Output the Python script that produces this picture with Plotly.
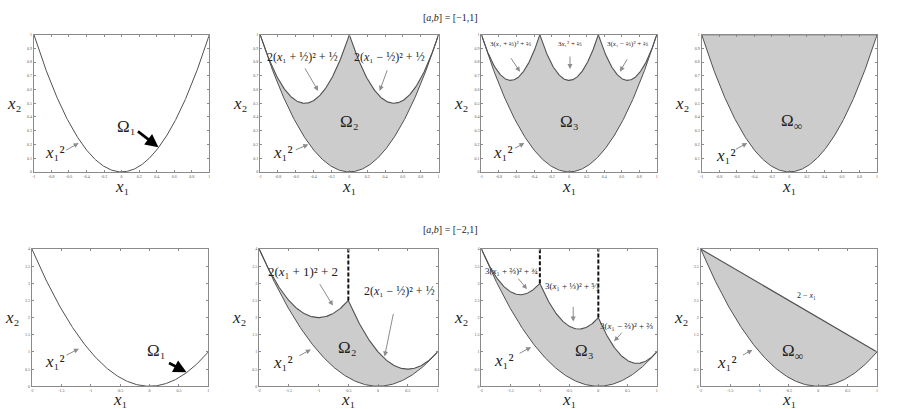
import numpy as np
import plotly.graph_objects as go

# ---------------- data ----------------
row_titles = ["[<i>a</i>,<i>b</i>] = [−1,1]", "[<i>a</i>,<i>b</i>] = [−2,1]"]
row_xrange = [[-1, 1], [-2, 1]]
row_yrange = [[0, 1], [0, 4]]
row_xticks = [[-1, -0.8, -0.6, -0.4, -0.2, 0, 0.2, 0.4, 0.6, 0.8, 1],
              [-2, -1.5, -1, -0.5, 0, 0.5, 1]]
row_yticks = [[0, 0.1, 0.2, 0.3, 0.4, 0.5, 0.6, 0.7, 0.8, 0.9, 1],
              [0, 0.5, 1, 1.5, 2, 2.5, 3, 3.5, 4]]
row_xticklabels = [["-1", "-0.8", "-0.6", "-0.4", "-0.2", "0", "0.2", "0.4", "0.6", "0.8", "1"],
                   ["-2", "-1.5", "-1", "-0.5", "0", "0.5", "1"]]
row_yticklabels = [["0", "0.1", "0.2", "0.3", "0.4", "0.5", "0.6", "0.7", "0.8", "0.9", "1"],
                   ["0", "0.5", "1", "1.5", "2", "2.5", "3", "3.5", "4"]]

# lower boundary x1^2 : coefficient
lower_coef = 1.0
# upper boundary pieces: [k, c, d, x_start, x_end]  ->  k*(x1-c)^2 + d
top_omega2_pieces = [[2, -1/2, 1/2, -1, 0], [2, 1/2, 1/2, 0, 1]]
top_omega3_pieces = [[3, -2/3, 2/3, -1, -1/3], [3, 0, 2/3, -1/3, 1/3], [3, 2/3, 2/3, 1/3, 1]]
top_omegainf_pieces = [[0, 0, 1, -1, 1]]
bot_omega2_pieces = [[2, -1, 2, -2, -1/2], [2, 1/2, 1/2, -1/2, 1]]
bot_omega3_pieces = [[3, -4/3, 8/3, -2, -1], [3, -1/3, 5/3, -1, 0], [3, 2/3, 2/3, 0, 1]]
# straight upper boundary for bottom Omega_inf: [slope, intercept, x_start, x_end]
bot_omegainf_line = [-1, 2, -2, 1]
# dashed vertical lines (x positions)
bot_omega2_dashes = [-1/2]
bot_omega3_dashes = [-1, 0]

# ---------------- layout helpers ----------------
W, H = 900, 409
px_x = [[32, 208], [259, 438], [481, 657], [702, 878],
        [30, 207], [258, 437], [481, 657], [701, 878]]
px_y = [[32, 171], [32, 171], [32, 171], [32, 171],
        [249, 388], [249, 388], [249, 388], [249, 388]]
xlabel_shift = [-15, -13]

FONT = "Liberation Serif, DejaVu Serif, Times New Roman, serif"
CURVE = "#505050"
FRAME = "#8a8a8a"
FILL = "#cccccc"
ARROW = "#8c8c8c"

fig = go.Figure()
layout = dict(width=W, height=H, margin=dict(l=0, r=0, t=0, b=0),
              paper_bgcolor="white", plot_bgcolor="white", showlegend=False)
annotations = []


def ax_names(i):
    s = "" if i == 0 else str(i + 1)
    return "x" + s, "y" + s, "xaxis" + s, "yaxis" + s


for i in range(8):
    r = 0 if i < 4 else 1
    xn, yn, xa, ya = ax_names(i)
    layout[xa] = dict(domain=[px_x[i][0] / W, px_x[i][1] / W], anchor=yn,
                      range=row_xrange[r], tickvals=row_xticks[r], ticktext=row_xticklabels[r],
                      ticks="inside", ticklen=2, tickcolor=FRAME, showline=True, linecolor=FRAME,
                      linewidth=1, mirror="ticks", showgrid=False, zeroline=False,
                      tickfont=dict(size=4, color="#555555", family=FONT), fixedrange=True)
    layout[ya] = dict(domain=[1 - px_y[i][1] / H, 1 - px_y[i][0] / H], anchor=xn,
                      range=row_yrange[r], tickvals=row_yticks[r], ticktext=row_yticklabels[r],
                      ticks="inside", ticklen=2, tickcolor=FRAME, showline=True, linecolor=FRAME,
                      linewidth=1, mirror="ticks", showgrid=False, zeroline=False,
                      tickfont=dict(size=4, color="#555555", family=FONT), fixedrange=True)
    # axis labels
    annotations.append(dict(xref=xn + " domain", yref=yn + " domain", x=0.5, y=0,
                            yshift=xlabel_shift[r],
                            text="<i>x</i>₁", showarrow=False,
                            font=dict(family=FONT, size=17, color="#222"), yanchor="middle"))
    annotations.append(dict(xref=xn + " domain", yref=yn + " domain", x=0, y=0.5, xshift=-20,
                            text="<i>x</i>₂", showarrow=False,
                            font=dict(family=FONT, size=17, color="#222"), xanchor="center"))


def eval_pieces(pieces):
    xs, ys = [], []
    for k, c, d, x0, x1 in pieces:
        x = np.linspace(x0, x1, 120)
        xs.append(x)
        ys.append(k * (x - c) ** 2 + d)
    return np.concatenate(xs), np.concatenate(ys)


def add_region(i, upper_x, upper_y, fill=True):
    xn, yn, _, _ = ax_names(i)
    r = 0 if i < 4 else 1
    lx = np.linspace(row_xrange[r][0], row_xrange[r][1], 300)
    ly = lower_coef * lx ** 2
    if fill:
        fig.add_trace(go.Scatter(x=np.concatenate([lx, upper_x[::-1]]),
                                 y=np.concatenate([ly, upper_y[::-1]]),
                                 fill="toself", fillcolor=FILL, mode="lines",
                                 line=dict(width=0), xaxis=xn, yaxis=yn, hoverinfo="skip"))
    fig.add_trace(go.Scatter(x=lx, y=ly, mode="lines", line=dict(color=CURVE, width=1),
                             xaxis=xn, yaxis=yn, hoverinfo="skip"))
    if upper_x is not None and fill:
        fig.add_trace(go.Scatter(x=upper_x, y=upper_y, mode="lines",
                                 line=dict(color=CURVE, width=1.1),
                                 xaxis=xn, yaxis=yn, hoverinfo="skip"))


def add_dashes(i, xs_list, pieces, top):
    xn, yn, _, _ = ax_names(i)
    for xv in xs_list:
        for k, c, d, x0, x1 in pieces:
            if abs(x0 - xv) < 1e-9:
                y0 = k * (xv - c) ** 2 + d
        fig.add_trace(go.Scatter(x=[xv, xv], y=[y0, top], mode="lines",
                                 line=dict(color="#111", width=2, dash="4px,2px"),
                                 xaxis=xn, yaxis=yn, hoverinfo="skip"))


# panel 1 : only the parabola
add_region(0, None, None, fill=False)
# panel 2
ux, uy = eval_pieces(top_omega2_pieces); add_region(1, ux, uy)
# panel 3
ux, uy = eval_pieces(top_omega3_pieces); add_region(2, ux, uy)
# panel 4
ux, uy = eval_pieces(top_omegainf_pieces); add_region(3, ux, uy)
# panel 5
add_region(4, None, None, fill=False)
# panel 6
ux, uy = eval_pieces(bot_omega2_pieces); add_region(5, ux, uy)
add_dashes(5, bot_omega2_dashes, bot_omega2_pieces, 4)
# panel 7
ux, uy = eval_pieces(bot_omega3_pieces); add_region(6, ux, uy)
add_dashes(6, bot_omega3_dashes, bot_omega3_pieces, 4)
# panel 8
m, b0, xa0, xa1 = bot_omegainf_line
lx8 = np.linspace(xa0, xa1, 50)
add_region(7, lx8, m * lx8 + b0)


# ---------------- annotations ----------------
def txt(i, x, y, text, size, color="#222", anchor="center"):
    xn, yn, _, _ = ax_names(i)
    annotations.append(dict(xref=xn, yref=yn, x=x, y=y, text=text, showarrow=False,
                            xanchor=anchor, font=dict(family=FONT, size=size, color=color)))


def arr(i, x, y, ax, ay, color=ARROW, width=1, head=2, size=1.0):
    xn, yn, _, _ = ax_names(i)
    annotations.append(dict(xref=xn, yref=yn, x=x, y=y, ax=ax, ay=ay, text="",
                            showarrow=True, arrowhead=head, arrowsize=size,
                            arrowwidth=width, arrowcolor=color))


X1SQ = "<i>x</i>₁²"

# panel 1
txt(0, -0.76, 0.14, X1SQ, 17); arr(0, -0.49, 0.21, -14, 8)
txt(0, 0.06, 0.33, "Ω₁", 17); arr(0, 0.42, 0.18, -22, -17, color="#000", width=2.6, head=2, size=1.0)
# panel 2
txt(1, -0.52, 0.84, "2(<i>x</i>₁ + ½)² + ½", 12)
txt(1, 0.45, 0.84, "2(<i>x</i>₁ − ½)² + ½", 12)
arr(1, -0.35, 0.59, -14, -24); arr(1, 0.34, 0.59, 8, -22)
txt(1, 0.0, 0.37, "Ω₂", 17)
txt(1, -0.74, 0.14, X1SQ, 17); arr(1, -0.46, 0.2, -14, 6)
# panel 3
txt(2, -0.67, 0.93, "3(<i>x</i>₁ + ⅔)² + ⅔", 7)
txt(2, 0.01, 0.93, "3<i>x</i>₁² + ⅔", 7)
txt(2, 0.67, 0.93, "3(<i>x</i>₁ − ⅔)² + ⅔", 7)
arr(2, -0.56, 0.73, -10, -15); arr(2, 0.01, 0.75, 0, -14); arr(2, 0.58, 0.73, 8, -14)
txt(2, 0.01, 0.37, "Ω₃", 17)
txt(2, -0.75, 0.14, X1SQ, 17); arr(2, -0.51, 0.21, -11, 6)
# panel 4
txt(3, 0.02, 0.36, "Ω<sub>∞</sub>", 17)
txt(3, -0.72, 0.12, X1SQ, 17); arr(3, -0.48, 0.21, -13, 7)
# panel 5
txt(4, -1.61, 0.72, X1SQ, 17); arr(4, -1.2, 1.09, -14, 7)
txt(4, 0.12, 1.04, "Ω₁", 17); arr(4, 0.63, 0.41, -19, -10, color="#000", width=2.6, head=2, size=1.0)
# panel 6
txt(5, -1.26, 3.33, "2(<i>x</i>₁ + 1)² + 2", 13)
arr(5, -0.76, 2.35, -14, -23)
txt(5, 0.36, 2.78, "2(<i>x</i>₁ − ½)² + ½", 12)
arr(5, 0.11, 0.87, 9, -44)
txt(5, -0.51, 1.13, "Ω₂", 17)
txt(5, -1.6, 0.7, X1SQ, 17); arr(5, -1.13, 1.07, -13, 7)
# panel 7
txt(6, -1.97, 3.37, "3(<i>x</i>₁ + ⅔)² + ¾", 9, anchor="left")
arr(6, -1.22, 2.83, -10, -12)
txt(6, -0.95, 2.91, "3(<i>x</i>₁ + ⅓)² + ⁵⁄₃", 9, anchor="left")
arr(6, -0.43, 1.89, 0, -16)
txt(6, 0.0, 1.77, "3(<i>x</i>₁ − ⅔)² + ⅔", 9, anchor="left")
arr(6, 0.27, 1.31, 9, -10)
txt(6, -0.23, 1.03, "Ω₃", 17)
txt(6, -1.62, 0.74, X1SQ, 17); arr(6, -1.15, 1.14, -13, 7)
# panel 8
txt(7, -0.2, 2.63, "2 − <i>x</i>₁", 8)
txt(7, -0.44, 1.0, "Ω<sub>∞</sub>", 17)
txt(7, -1.56, 0.69, X1SQ, 17); arr(7, -1.12, 1.06, -11, 6)

# row titles
annotations.append(dict(xref="paper", yref="paper", x=0.5, y=1 - 7 / H, text=row_titles[0],
                        showarrow=False, font=dict(family=FONT, size=10, color="#222")))
annotations.append(dict(xref="paper", yref="paper", x=0.5, y=1 - 229 / H, text=row_titles[1],
                        showarrow=False, font=dict(family=FONT, size=10, color="#222")))

layout["annotations"] = annotations
fig.update_layout(**layout)
fig.write_html("out.html", config={"displayModeBar": False},
               post_script="document.body.style.margin='0';")
